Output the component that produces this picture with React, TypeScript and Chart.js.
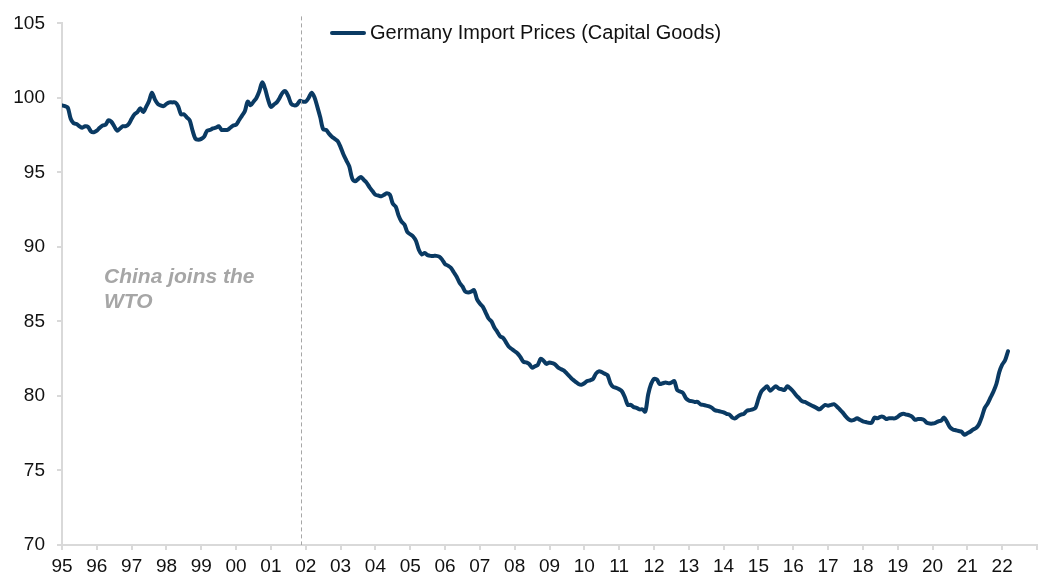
import React, { useEffect, useRef } from "react";
import { Chart, registerables } from "chart.js";

Chart.register(...registerables);

// Year tick labels (one per January, 1995 .. 2022)
const yearLabels: string[] = [
  "95", "96", "97", "98", "99", "00", "01", "02", "03", "04", "05", "06", "07", "08",
  "09", "10", "11", "12", "13", "14", "15", "16", "17", "18", "19", "20", "21", "22",
];

// Monthly index values, Jan of each year through Dec (2022 through Mar)
const y1995 = [99.5, 99.45, 99.35, 98.6, 98.3, 98.25, 98.1, 98.0, 98.1, 98.05, 97.75, 97.7];
const y1996 = [97.8, 98.0, 98.15, 98.2, 98.5, 98.4, 98.1, 97.8, 97.95, 98.1, 98.1, 98.25];
const y1997 = [98.6, 98.9, 99.05, 99.3, 99.05, 99.4, 99.8, 100.35, 99.9, 99.6, 99.5, 99.45];
const y1998 = [99.6, 99.7, 99.7, 99.7, 99.45, 98.9, 98.9, 98.7, 98.5, 97.8, 97.25, 97.2];
const y1999 = [97.25, 97.4, 97.8, 97.85, 97.95, 98.0, 98.1, 97.85, 97.85, 97.85, 98.0, 98.15];
const y2000 = [98.2, 98.5, 98.8, 99.1, 99.75, 99.5, 99.75, 100.0, 100.45, 101.05, 100.6, 99.9];
const y2001 = [99.4, 99.55, 99.7, 100.0, 100.35, 100.45, 100.1, 99.6, 99.5, 99.55, 99.8, 99.75];
const y2002 = [99.75, 100.0, 100.35, 100.05, 99.4, 98.7, 97.9, 97.85, 97.6, 97.4, 97.25, 97.1];
const y2003 = [96.7, 96.2, 95.8, 95.4, 94.6, 94.4, 94.55, 94.7, 94.5, 94.3, 94.0, 93.75];
const y2004 = [93.5, 93.45, 93.4, 93.5, 93.6, 93.5, 92.9, 92.7, 92.1, 91.7, 91.5, 91.0];
const y2005 = [90.85, 90.7, 90.4, 89.8, 89.5, 89.6, 89.45, 89.4, 89.4, 89.4, 89.35, 89.15];
const y2006 = [88.85, 88.75, 88.6, 88.3, 88.0, 87.6, 87.35, 87.0, 86.95, 87.0, 87.1, 86.5];
const y2007 = [86.2, 86.0, 85.6, 85.2, 85.0, 84.6, 84.3, 84.0, 83.9, 83.6, 83.3, 83.15];
const y2008 = [83.0, 82.85, 82.6, 82.3, 82.25, 82.15, 81.9, 82.0, 82.1, 82.5, 82.35, 82.15];
const y2009 = [82.25, 82.2, 82.1, 81.9, 81.8, 81.7, 81.5, 81.3, 81.1, 80.95, 80.8, 80.75];
const y2010 = [80.85, 81.0, 81.05, 81.15, 81.5, 81.65, 81.6, 81.5, 81.4, 80.85, 80.6, 80.55];
const y2011 = [80.45, 80.3, 79.9, 79.4, 79.4, 79.25, 79.2, 79.1, 79.1, 78.95, 80.1, 80.8];
const y2012 = [81.15, 81.1, 80.8, 80.85, 80.9, 80.85, 80.9, 81.0, 80.4, 80.3, 80.2, 79.85];
const y2013 = [79.7, 79.65, 79.6, 79.6, 79.45, 79.4, 79.35, 79.3, 79.2, 79.05, 79.0, 78.95];
const y2014 = [78.9, 78.8, 78.75, 78.55, 78.5, 78.65, 78.75, 78.8, 79.0, 79.05, 79.1, 79.2];
const y2015 = [79.8, 80.3, 80.5, 80.65, 80.35, 80.5, 80.65, 80.5, 80.45, 80.4, 80.65, 80.5];
const y2016 = [80.3, 80.05, 79.85, 79.65, 79.6, 79.5, 79.4, 79.3, 79.2, 79.1, 79.25, 79.4];
const y2017 = [79.35, 79.4, 79.45, 79.3, 79.1, 78.9, 78.65, 78.45, 78.35, 78.4, 78.5, 78.4];
const y2018 = [78.3, 78.25, 78.2, 78.2, 78.55, 78.5, 78.6, 78.6, 78.45, 78.5, 78.5, 78.5];
const y2019 = [78.6, 78.75, 78.8, 78.75, 78.7, 78.6, 78.4, 78.45, 78.45, 78.4, 78.2, 78.15];
const y2020 = [78.15, 78.2, 78.3, 78.35, 78.55, 78.25, 77.9, 77.75, 77.7, 77.65, 77.6, 77.4];
const y2021 = [77.5, 77.6, 77.75, 77.85, 78.1, 78.6, 79.2, 79.5, 79.9, 80.3, 80.8, 81.6];
const y2022 = [82.1, 82.4, 83.0];

const importPrices: number[] = [
  ...y1995, ...y1996, ...y1997, ...y1998, ...y1999, ...y2000, ...y2001, ...y2002,
  ...y2003, ...y2004, ...y2005, ...y2006, ...y2007, ...y2008, ...y2009, ...y2010,
  ...y2011, ...y2012, ...y2013, ...y2014, ...y2015, ...y2016, ...y2017, ...y2018,
  ...y2019, ...y2020, ...y2021, ...y2022,
];

const seriesName = "Germany Import Prices (Capital Goods)";
const annotationLines = ["China joins the", "WTO"];
// China joins WTO: months since Jan 1995
const wtoMonth = 82.2;

const LINE_COLOR = "#0a3a63";
const AXIS_COLOR = "#d9d9d9";
const FONT = "'Liberation Sans', Arial, Helvetica, sans-serif";

export default function App() {
  const canvasRef = useRef<HTMLCanvasElement | null>(null);

  useEffect(() => {
    const canvas = canvasRef.current;
    if (!canvas) return;

    const overlay = {
      id: "overlay",
      afterDatasetsDraw(chart: any) {
        const { ctx, chartArea, scales } = chart;
        const xs = scales.x;
        ctx.save();
        // dashed WTO marker
        const wx = Math.round(xs.getPixelForValue(wtoMonth)) + 0.5;
        ctx.strokeStyle = "#a6a6a6";
        ctx.lineWidth = 1;
        ctx.setLineDash([4, 3]);
        ctx.beginPath();
        ctx.moveTo(wx, chartArea.top - 7);
        ctx.lineTo(wx, chartArea.bottom);
        ctx.stroke();
        ctx.setLineDash([]);

        // annotation text
        ctx.fillStyle = "#a6a6a6";
        ctx.font = `italic bold 21px ${FONT}`;
        ctx.textBaseline = "alphabetic";
        ctx.textAlign = "left";
        ctx.fillText(annotationLines[0], chartArea.left + 42, 283);
        ctx.fillText(annotationLines[1], chartArea.left + 42, 308);

        // legend
        ctx.strokeStyle = LINE_COLOR;
        ctx.lineWidth = 4;
        ctx.lineCap = "round";
        ctx.beginPath();
        ctx.moveTo(332, 33);
        ctx.lineTo(364, 33);
        ctx.stroke();
        ctx.fillStyle = "#111";
        ctx.font = `20px ${FONT}`;
        ctx.textBaseline = "middle";
        ctx.fillText(seriesName, 370, 33);
        ctx.restore();
      },
    };

    const chart = new Chart(canvas, {
      type: "line",
      data: {
        datasets: [
          {
            label: seriesName,
            data: importPrices.map((v, i) => ({ x: i, y: v })),
            borderColor: LINE_COLOR,
            borderWidth: 4,
            pointRadius: 0,
            tension: 0.3,
            borderJoinStyle: "round",
            borderCapStyle: "round",
            fill: false,
          },
        ],
      },
      options: {
        responsive: false,
        animation: false,
        events: [],
        layout: { autoPadding: false, padding: { top: 18, right: 4, left: 0, bottom: 0 } },
        plugins: { legend: { display: false }, tooltip: { enabled: false } },
        scales: {
          x: {
            type: "linear",
            min: 0,
            max: yearLabels.length * 12,
            afterFit: (s: any) => {
              s.height = 36;
            },
            afterBuildTicks: (s: any) => {
              const t = [];
              for (let i = 0; i <= yearLabels.length; i++) t.push({ value: i * 12 });
              s.ticks = t;
            },
            ticks: {
              autoSkip: false,
              maxRotation: 0,
              padding: 5,
              color: "#111",
              font: { family: FONT, size: 19 },
              callback: (v: any) => {
                const idx = Math.round(Number(v) / 12);
                return idx < yearLabels.length ? yearLabels[idx] : "";
              },
            },
            grid: { drawOnChartArea: false, color: AXIS_COLOR, tickLength: 5, lineWidth: 2 },
            border: { color: AXIS_COLOR, width: 2 },
          },
          y: {
            min: 70,
            max: 105,
            afterFit: (s: any) => {
              s.width = 62;
            },
            ticks: {
              stepSize: 5,
              padding: 12,
              color: "#111",
              font: { family: FONT, size: 19 },
            },
            grid: { drawOnChartArea: false, color: AXIS_COLOR, tickLength: 5, lineWidth: 2 },
            border: { color: AXIS_COLOR, width: 2 },
          },
        },
      },
      plugins: [overlay],
    });

    return () => chart.destroy();
  }, []);

  return (
    <div style={{ position: "fixed", left: 0, top: 0, width: 1042, height: 581, background: "#fff" }}>
      <canvas ref={canvasRef} width={1042} height={581} style={{ display: "block" }} />
    </div>
  );
}
